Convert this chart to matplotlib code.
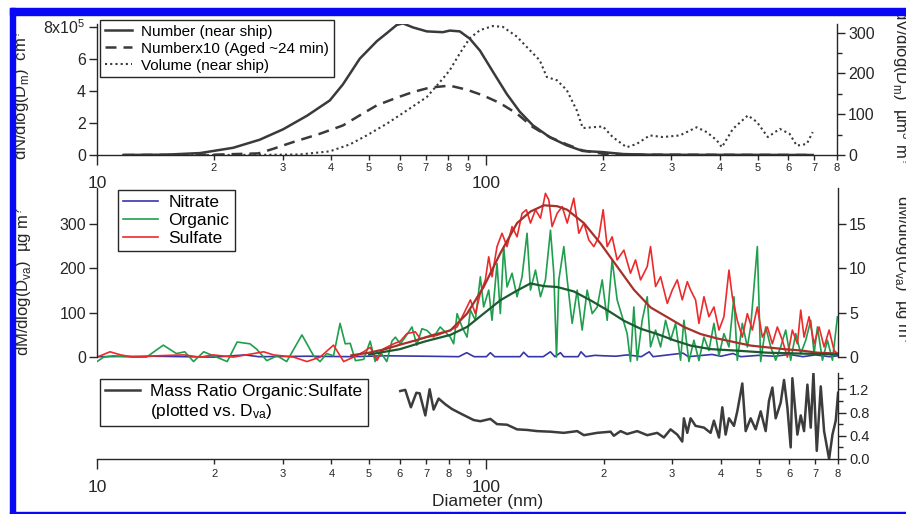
import matplotlib
matplotlib.use('Agg')
import matplotlib.pyplot as plt
from matplotlib.lines import Line2D
from matplotlib.patches import Rectangle
from matplotlib.ticker import FixedLocator, FixedFormatter

plt.rcParams['font.family'] = 'Liberation Sans'
plt.rcParams['mathtext.fontset'] = 'custom'
plt.rcParams['mathtext.rm'] = 'Liberation Sans'
plt.rcParams['mathtext.it'] = 'Liberation Sans'
plt.rcParams['mathtext.default'] = 'rm'

# ---- top panel: mobility size distributions (D_m, nm) ----
num_d = [11.7, 15, 18.4, 19.9, 22.4, 26.2, 30.1, 34.7, 39.7, 42.9, 47.4, 52.5, 55.7, 59.0,
         61.2, 64.9, 70.5, 77.5, 80.8, 85.7, 90.9, 96.6, 104.2, 113.2, 122.2, 132.1, 146.2,
         161.5, 177.5, 200, 225, 264, 355, 477, 693]
num_near = [0, 0.02e5, 0.12e5, 0.25e5, 0.45e5, 0.95e5, 1.6e5, 2.45e5, 3.4e5, 4.4e5, 6.0e5,
            7.1e5, 7.6e5, 8.1e5, 8.2e5, 7.95e5, 7.7e5, 7.65e5, 7.75e5, 7.7e5, 7.25e5, 6.5e5,
            5.2e5, 3.8e5, 2.7e5, 1.85e5, 1.1e5, 0.6e5, 0.25e5, 0.18e5, 0.06e5, 0.02e5,
            0.01e5, 0.01e5, 0]

aged_d = [11.7, 20, 26, 28.35, 31.9, 37.4, 42.9, 47.4, 52.5, 59.0, 64.9, 71.8, 80.8, 89.3,
          98.2, 108.6, 120.2, 132.1, 146.2, 161.5, 177.5, 200, 250, 693]
aged_x10 = [0, 0.02e5, 0.1e5, 0.38e5, 0.8e5, 1.32e5, 1.84e5, 2.47e5, 3.1e5, 3.57e5, 3.92e5,
            4.2e5, 4.32e5, 4.07e5, 3.72e5, 3.24e5, 2.58e5, 1.74e5, 1.11e5, 0.66e5, 0.28e5,
            0.08e5, 0.02e5, 0]

vol_d = [11.7, 20, 27.35, 33.2, 39.7, 44.7, 49.4, 55.7, 62.6, 70.5, 77.5, 80.8, 85.7, 90.9,
         96.6, 104.2, 110.6, 120.2, 129.7, 137.6, 143.5, 152.4, 161.5, 171.4, 177.5, 188.4,
         200, 211.9, 230.2, 244.2, 264, 285, 315.5, 348.6, 370, 392.6, 404.6, 431.9, 472,
         497.7, 531, 570, 604, 630.5, 668.6, 693]
vol_near = [0, 0, 0.5, 1.3, 9, 26, 48, 77, 109, 142, 187, 208, 249, 286, 306, 316, 314, 290,
            257, 232, 191, 183, 159, 109, 66, 68, 70, 44, 19, 27, 48, 44, 48, 68, 56, 36, 19,
            64, 97, 81, 44, 64, 52, 23, 27, 56]

# ---- middle panel: AMS mass distributions (D_va, nm) ----
org_d = [10.0, 10.4, 11.0, 12.4, 13.4, 14.8, 16.0, 16.8, 17.7, 18.8, 19.9, 21.6, 22.9, 24.7,
         25.7, 27.3, 29.0, 30.7, 33.6, 36.0, 37.4, 38.9, 40.5, 42.1, 43.4, 44.7, 46.1, 48.4,
         50.3, 51.8, 53.4, 55.5, 57.2, 58.4, 60.1, 61.9, 64.4, 66.3, 68.3, 70.4, 73.2, 76.1,
         80.8, 82.4, 84.1, 86.6, 89.2, 91.0, 93.7, 96.5, 98.4, 101.4, 103.4, 106.5, 108.6,
         110.8, 113.0, 116.4, 119.9, 123.5, 127.2, 129.8, 133.7, 137.7, 141.8, 146.1, 149.0,
         151.4, 153.5, 158.1, 161.3, 166.1, 171.1, 176.2, 181.5, 187.0, 192.6, 198.4, 204.3,
         210.4, 216.7, 223.3, 229.9, 234.5, 239.2, 244.0, 251.3, 258.9, 264.0, 272.0, 280.2,
         288.6, 297.2, 306.2, 315.3, 321.6, 331.3, 341.2, 351.5, 362.1, 372.9, 384.1, 395.7,
         407.5, 419.8, 432.4, 441.0, 454.3, 468.0, 477.3, 496.5, 506.4, 521.6, 537.3, 553.4,
         570.0, 587.2, 604.8, 623.0, 641.8, 661.1, 680.9, 694.5, 708.4, 729.7, 751.6, 774.2,
         797.4]
organic = [-10, 0, 3, 0, 0, 27, 8, 12, -10, 12, 3, -10, 34, 30, 18, -8, 3, -10, 50, 3, -10,
           8, 3, 76, 30, 31, -8, -5, 36, -10, 12, -10, 36, 45, 30, 45, 68, 27, 64, 60, 45, 68,
           45, 30, 98, 68, 45, 106, 83, 181, 113, 151, 83, 211, 98, 249, 158, 189, 136, 181,
           279, 151, 196, 136, 174, 286, 189, 0, 174, 249, 174, 76, 151, 61, 151, 98, 113,
           174, 83, 219, 129, 91, 53, -10, 113, -7, 83, 136, 23, 61, 23, 83, 38, 76, -7, 83,
           -10, 38, -8, 45, 15, 76, 3, 53, 23, 136, -7, 76, 23, 68, 249, -10, 68, 23, -7, 23,
           61, -7, 53, 8, 38, 83, 8, 68, -7, 38, -7, 91]

sul_d = [10.0, 10.8, 11.5, 12.4, 14.2, 16.7, 18.4, 19.9, 22.4, 26.8, 28.4, 32.0, 34.6, 37.4,
         40.5, 43.0, 45.6, 48.4, 50.3, 52.4, 54.5, 57.8, 60.1, 62.5, 65.7, 67.7, 70.4, 74.7,
         80.8, 84.1, 87.5, 91.0, 93.7, 96.5, 99.4, 101.4, 103.4, 106.5, 109.7, 113.0, 116.4,
         119.9, 123.5, 126.7, 129.8, 133.7, 137.7, 141.8, 144.7, 147.5, 152.0, 156.6, 161.3,
         167.7, 172.8, 178.0, 183.3, 188.8, 194.5, 199.5, 204.3, 210.4, 216.7, 225.5, 234.5,
         241.6, 248.9, 258.9, 264.0, 272.0, 280.2, 291.5, 300.2, 309.2, 318.5, 328.1, 334.6,
         344.6, 351.5, 362.1, 372.9, 384.1, 395.7, 407.5, 419.8, 428.2, 441.0, 454.3, 468.0,
         482.0, 496.5, 511.4, 526.8, 542.7, 558.9, 575.7, 593.0, 610.8, 629.2, 641.8, 654.5,
         674.2, 694.5, 715.3, 736.8, 759.0, 781.7, 797.4]
sulfate = [0, 12, 5, 0, 3, 5, 0, 5, 0, 12, 5, 0, -10, 0, 27, -10, 0, 12, 22, -7, 19, 30, 36,
           53, 57, 41, 45, 49, 61, 68, 98, 129, 98, 144, 174, 226, 181, 249, 279, 249, 294,
           271, 324, 332, 302, 332, 313, 369, 354, 294, 324, 339, 302, 358, 279, 302, 264,
           249, 271, 332, 249, 271, 219, 241, 189, 219, 174, 204, 249, 159, 181, 121, 151,
           174, 129, 170, 151, 129, 76, 136, 91, 113, 61, 91, 196, 136, 83, 45, 98, 61, 113,
           45, 68, 30, 68, 38, 0, 61, 30, 106, 45, 91, 30, 68, 23, 61, 15, 8]

nit_d = [10, 14, 20, 24, 26, 35, 45, 55, 70, 85, 89, 93, 100, 102.4, 105, 122, 124.7, 128,
         140, 146, 150, 155, 158, 172, 175, 180, 190, 200, 215, 230, 250, 262, 268, 320, 330,
         380, 400, 430, 450, 500, 550, 600, 650, 700, 760, 800]
nitrate = [1, 2, 0, 5, 1, 2, 1, 3, 2, 1, 10, 1, 1, 10, 1, 1, 11, 1, 1, 12, 1, 10, 1, 1, 12, 1,
           4, 3, 2, 5, 1, 12, 1, 9, 1, 6, 2, 8, 1, 4, 2, 6, 1, 5, 1, 3]

sul_fit_d = [45, 50, 55, 60, 66, 73, 80.8, 89.2, 98.4, 108.6, 119.9, 129.8, 140.5, 152.0,
             161.3, 178.0, 196.4, 216.7, 239.2, 264.0, 291.5, 321.6, 355, 391.7, 432.4, 477.3,
             526.8, 581.4, 641.8, 708.4, 797.4]
sul_fit = [0.2, 0.5, 0.9, 1.4, 1.9, 2.5, 3.0, 4.9, 7.9, 11.7, 15.1, 16.4, 17.1, 17.0, 16.6,
           15.1, 12.8, 10.2, 7.6, 5.6, 4.5, 3.4, 2.6, 2.1, 1.7, 1.3, 1.1, 0.9, 0.75, 0.5, 0.4]

org_fit_d = [50, 60, 70, 80.8, 89.2, 98.4, 108.6, 119.9, 129.8, 140.5, 152.0, 167.7, 185.1,
             204.3, 225.5, 248.9, 274.7, 303.1, 334.6, 376.6, 432.4, 526.8, 641.8, 797.4]
org_fit = [0.3, 0.9, 1.8, 2.5, 3.4, 4.9, 6.4, 7.5, 8.3, 8.0, 7.9, 7.4, 6.4, 5.3, 4.1, 3.2,
           2.6, 1.9, 1.3, 0.9, 0.75, 0.5, 0.4, 0.3]

# ---- bottom panel: organic/sulfate mass ratio ----
ratio_d = [60.1, 61.9, 64.0, 66.1, 67.4, 69.7, 71.5, 73.2, 75.4, 78.5, 81.6, 86.6, 92.8, 96.5,
           102.4, 106.5, 113.0, 119.9, 127.2, 135.0, 146.1, 158.1, 171.1, 178.0, 192.6, 208.4,
           212.5, 221.1, 229.9, 244.0, 258.9, 274.7, 285.7, 297.2, 309.2, 318.5, 321.6, 328.1,
           334.6, 344.6, 362.1, 376.6, 384.1, 395.7, 403.6, 411.6, 419.8, 432.4, 441.0, 454.3,
           463.4, 477.3, 491.6, 506.4, 521.6, 531.9, 542.7, 553.4, 570.0, 581.4, 593.0, 604.8,
           610.8, 629.2, 641.8, 654.5, 667.6, 680.9, 691.8, 705.6, 722.4, 736.8, 759.0, 774.2,
           789.4, 800.5]
ratio = [1.17, 1.19, 0.89, 1.14, 1.13, 0.75, 1.20, 0.85, 1.04, 0.94, 0.86, 0.77, 0.67, 0.65,
         0.69, 0.60, 0.59, 0.51, 0.50, 0.48, 0.47, 0.45, 0.48, 0.41, 0.45, 0.47, 0.40, 0.48,
         0.43, 0.48, 0.41, 0.45, 0.37, 0.51, 0.42, 0.30, 0.70, 0.45, 0.70, 0.57, 0.54, 0.45,
         0.66, 0.37, 0.89, 0.42, 0.70, 0.57, 0.82, 1.30, 0.48, 0.70, 0.51, 0.82, 0.48, 1.00,
         1.23, 0.70, 0.97, 1.36, 0.89, 0.20, 1.39, 0.42, 0.75, 0.48, 1.28, 0.54, 1.48, 0.14,
         1.25, 0.48, 0.0, 0.42, 0.66, 1.14]

x_major = [10, 100]
x_major_labels = ['10', '100']
x_minor = [20, 30, 40, 50, 60, 70, 80, 90, 200, 300, 400, 500, 600, 700, 800]
x_minor_labels = ['2', '3', '4', '5', '6', '7', '8', '9', '2', '3', '4', '5', '6', '7', '8']

W, H = 906, 514
INK = '#262626'
GREY = '#3a3a3a'


def fx(px):
    return px / W


def fy(py):
    return 1 - py / H


def log_xaxis(ax, show):
    '''log diameter axis with digit labels on the minor ticks'''
    ax.set_xscale('log')
    ax.set_xlim(10, 800)
    ax.xaxis.set_major_locator(FixedLocator(x_major))
    ax.xaxis.set_minor_locator(FixedLocator(x_minor))
    if show:
        ax.xaxis.set_major_formatter(FixedFormatter(x_major_labels))
        ax.xaxis.set_minor_formatter(FixedFormatter(x_minor_labels))
        ax.tick_params(axis='x', which='major', direction='out', length=7, width=1,
                       pad=8, labelsize=12.5, colors=INK)
        ax.tick_params(axis='x', which='minor', direction='out', length=3.5, width=1,
                       pad=2, labelsize=8, colors=INK)
    else:
        ax.tick_params(axis='x', which='both', bottom=False, labelbottom=False)


def style_y(ax):
    ax.tick_params(axis='y', which='major', direction='out', length=6, width=1, pad=2,
                   labelsize=11.5, colors=INK)
    ax.tick_params(axis='y', which='minor', direction='out', length=3.5, width=1, colors=INK)
    for s in ax.spines.values():
        s.set_color(INK)
        s.set_linewidth(1.0)


def framed_legend(ax, handles, labels, anchor, size, hl, spacing):
    leg = ax.legend(handles, labels, loc='upper left', bbox_to_anchor=anchor,
                    bbox_transform=ax.figure.transFigure, borderaxespad=0, fontsize=size,
                    handlelength=hl, handletextpad=0.6, labelspacing=spacing, borderpad=0.3,
                    fancybox=False, framealpha=1, edgecolor=INK)
    leg.get_frame().set_linewidth(1.0)
    return leg


fig = plt.figure(figsize=(W / 100, H / 100), dpi=100)

# top panel
ax_top = fig.add_axes([fx(97), fy(155), fx(837) - fx(97), fy(24) - fy(155)])
ax_vol = ax_top.twinx()
l_num, = ax_top.plot(num_d, num_near, color=GREY, lw=1.8)
l_aged, = ax_top.plot(aged_d, aged_x10, color=GREY, lw=1.8, dashes=(4.4, 2.8))
l_vol, = ax_vol.plot(vol_d, vol_near, color=GREY, lw=1.5, linestyle=(0, (1, 1.5)))
log_xaxis(ax_top, True)
ax_top.set_ylim(0, 8.16e5)
ax_top.yaxis.set_major_locator(FixedLocator([0, 2e5, 4e5, 6e5, 8e5]))
ax_top.yaxis.set_major_formatter(FixedFormatter(['0', '2', '4', '6', '8x10$^5$']))
ax_vol.set_ylim(0, 321)
ax_vol.yaxis.set_major_locator(FixedLocator([0, 100, 200, 300]))
ax_vol.yaxis.set_minor_locator(FixedLocator([50, 150, 250]))
style_y(ax_top)
style_y(ax_vol)
ax_top.spines['top'].set_visible(False)
ax_top.spines['right'].set_visible(False)
for s in ['top', 'left', 'bottom']:
    ax_vol.spines[s].set_visible(False)
framed_legend(ax_vol, [l_num, l_aged, l_vol],
              ['Number (near ship)', 'Numberx10 (Aged ~24 min)', 'Volume (near ship)'],
              (fx(100), fy(20)), 11, 1.8, 0.2)

# middle panel
mid_top = 381
ax_mid = fig.add_axes([fx(97), fy(366), fx(838) - fx(97), fy(188) - fy(366)])
ax_fit = ax_mid.twinx()
l_nit, = ax_mid.plot(nit_d, nitrate, color='#3636a8', lw=1.2)
l_org, = ax_mid.plot(org_d, organic, color='#1f9e4e', lw=1.2)
l_sul, = ax_mid.plot(sul_d, sulfate, color='#ec2a2c', lw=1.2)
ax_fit.plot(sul_fit_d, sul_fit, color='#a8302a', lw=1.6)
ax_fit.plot(org_fit_d, org_fit, color='#1d5a30', lw=1.6)
log_xaxis(ax_mid, False)
log_xaxis(ax_fit, False)
ax_mid.set_ylim(-20, mid_top)
ax_fit.set_ylim(-1, mid_top / 20)
ax_mid.yaxis.set_major_locator(FixedLocator([0, 100, 200, 300]))
ax_fit.yaxis.set_major_locator(FixedLocator([0, 5, 10, 15]))
style_y(ax_mid)
style_y(ax_fit)
for s in ['top', 'bottom', 'right']:
    ax_mid.spines[s].set_visible(False)
for s in ['top', 'bottom', 'left']:
    ax_fit.spines[s].set_visible(False)
ax_mid.spines['left'].set_bounds(0, mid_top)
ax_fit.spines['right'].set_bounds(0, mid_top / 20)
framed_legend(ax_fit, [l_nit, l_org, l_sul], ['Nitrate', 'Organic', 'Sulfate'],
              (fx(118), fy(190)), 12.5, 2.0, 0.15)

# bottom panel
ax_bot = fig.add_axes([fx(97), fy(459), fx(838) - fx(97), fy(373) - fy(459)])
l_ratio, = ax_bot.plot(ratio_d, ratio, color='#3c3c3c', lw=1.8)
log_xaxis(ax_bot, True)
ax_bot.tick_params(axis='x', which='major', pad=8)
ax_bot.tick_params(axis='x', which='minor', pad=4)
ax_bot.set_ylim(0, 1.48)
ax_bot.yaxis.tick_right()
ax_bot.yaxis.set_major_locator(FixedLocator([0, 0.4, 0.8, 1.2]))
ax_bot.yaxis.set_major_formatter(FixedFormatter(['0.0', '0.4', '0.8', '1.2']))
ax_bot.yaxis.set_minor_locator(FixedLocator([0.2, 0.6, 1.0, 1.4]))
style_y(ax_bot)
ax_bot.tick_params(axis='y', which='major', labelsize=10.5)
ax_bot.spines['top'].set_visible(False)
ax_bot.spines['left'].set_visible(False)
framed_legend(ax_bot, [l_ratio, Line2D([], [], color='none')],
              ['Mass Ratio Organic:Sulfate', '(plotted vs. D$_{va}$)'],
              (fx(100), fy(379)), 12.5, 2.0, 0.15)

# axis titles (the right-hand ones run off the cropped edge, as in the original)
fig.text(fx(21), fy(95), 'dN/dlog(D$_m$)  cm$^?$', rotation=90, ha='center', va='center',
         fontsize=12, color=INK)
fig.text(fx(23), fy(281), 'dM/dlog(D$_{va}$)  µg m$^?$', rotation=90, ha='center',
         va='center', fontsize=12, color=INK)
fig.text(fx(901), fy(165), 'dV/dlog(D$_m$)  µm$^3$ m$^?$', rotation=270, ha='center',
         va='bottom', fontsize=12, color=INK)
fig.text(fx(903), fy(345), 'dM/dlog(D$_{va}$)  µg m$^?$', rotation=270, ha='center',
         va='bottom', fontsize=12, color=INK)
fig.text(fx(488), fy(494), 'Diameter (nm)', ha='center', va='top', fontsize=12.5, color=INK)

# blue frame round the figure
blue = '#0808f4'
fig.add_artist(Rectangle((fx(10), fy(14.5)), 1 - fx(10), 6.5 / H, transform=fig.transFigure,
                         color=blue, zorder=20))
fig.add_artist(Rectangle((fx(10), 0), 4.5 / W, fy(8), transform=fig.transFigure,
                         color=blue, zorder=20))
fig.add_artist(Rectangle((fx(10), 0), 1 - fx(10), 2.5 / H, transform=fig.transFigure,
                         color=blue, zorder=20))

fig.savefig('out.png', dpi=100)
